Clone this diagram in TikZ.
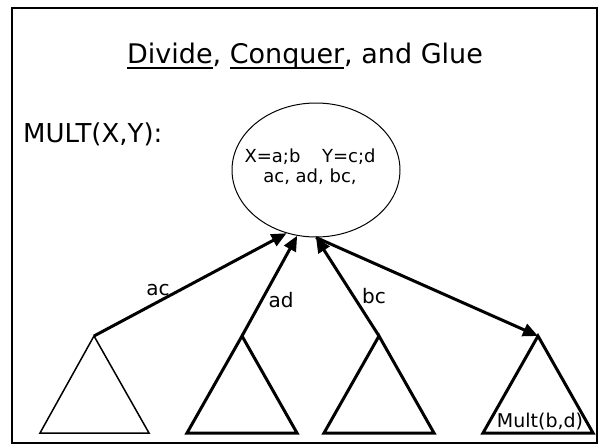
\documentclass[tikz,border=0pt]{standalone}
\usepackage{fontspec}
\setmainfont{DejaVu Sans}
\usetikzlibrary{shapes.geometric,arrows.meta}
\newcommand{\titleul}[1]{\setbox0\hbox{#1}\rlap{\vrule height -4pt depth 6pt width \wd0}\box0}

\begin{document}
\begin{tikzpicture}[x=1pt,y=-1pt,
  arrowline/.style={line width=3pt,-{Triangle[length=15pt,width=13pt]}},
  thintri/.style={line width=1.5pt},
  thicktri/.style={line width=3pt},
  lbl/.style={inner sep=0pt,anchor=base,font=\fontsize{20}{24}\selectfont}]
\useasboundingbox (0,0) rectangle (600,447);
\draw[line width=2pt] (12,8) rectangle (597,443);
\node[anchor=base,inner sep=0pt,font=\fontsize{27}{32}\selectfont] (title) at (305,63) {\titleul{Divide}, \titleul{Conquer}, and Glue};
\node[anchor=base west,inner sep=0pt,font=\fontsize{26}{30}\selectfont] (mult) at (23,142) {MULT(X,Y):};
\node[draw,ellipse,line width=1pt,minimum width=168pt,minimum height=134pt,inner sep=0pt] (root) at (316,170) {};
\node[align=center,inner sep=0pt,font=\fontsize{18}{20}\selectfont] (roottext) at (310,167) {X=a;b\hspace{1.2em}Y=c;d\\ac, ad, bc,};
% apexes of the four subproblems
\coordinate (t1) at (94,336);
\coordinate (t2) at (242,336);
\coordinate (t3) at (379,336);
\coordinate (t4) at (538,336);
\draw[thintri] (t1) -- ++(-54,97) -- ++(109,0) -- cycle;
\draw[thicktri] (t2) -- ++(-55,97) -- ++(110,0) -- cycle;
\draw[thicktri] (t3) -- ++(-55,97) -- ++(110,0) -- cycle;
\draw[thicktri] (t4) -- ++(-55,97) -- ++(110,0) -- cycle;
\node[anchor=base,inner sep=0pt,font=\fontsize{19}{22}\selectfont] (sub4) at (540,427) {Mult(b,d)};
% results going up, last call going down
\draw[arrowline] (t1) -- (root.245);
\draw[arrowline] (t2) -- (root.254);
\draw[arrowline] (t3) -- (root.south);
\draw[arrowline] (root.south) -- (t4);
\node[lbl] (lac) at (158,295) {ac};
\node[lbl] (lad) at (281,307) {ad};
\node[lbl] (lbc) at (374,303) {bc};
\end{tikzpicture}
\end{document}
